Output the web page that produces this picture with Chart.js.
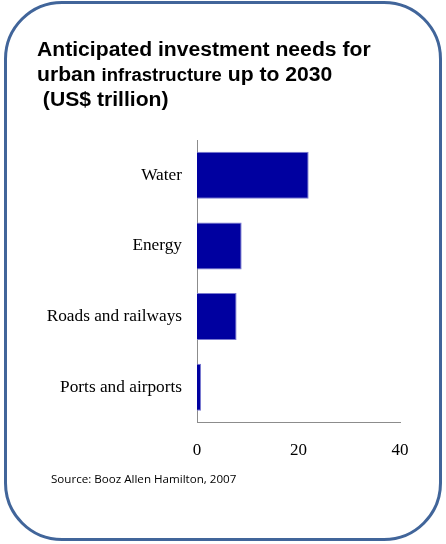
<!DOCTYPE html>
<html>
<head>
<meta charset="utf-8">
<script src="https://cdn.jsdelivr.net/npm/chart.js@4"></script>
<style>
  html,body{margin:0;padding:0;background:#fff;width:446px;height:544px;overflow:hidden;}
  #frame{position:absolute;left:4px;top:1px;width:432px;height:534px;border:3px solid #41659a;border-radius:58px;}
  #title{position:absolute;left:37px;top:37px;font-family:"Liberation Sans",Arial,sans-serif;font-weight:bold;font-size:20px;line-height:24.5px;color:#000;white-space:pre;transform:scaleX(1.057);transform-origin:0 0;}
  #title .small{font-size:17.5px;}
  #source{position:absolute;left:51px;top:471px;font-family:"Open Sans","Liberation Sans",sans-serif;font-size:11.6px;color:#000;}
  #wrap{position:absolute;left:0;top:0;width:446px;height:544px;}
</style>
</head>
<body>
<div id="frame"></div>
<div id="wrap"><canvas id="c" width="446" height="544"></canvas></div>
<div id="title">Anticipated investment needs for
urban <span class="small">infrastructure</span> up to 2030
 (US$ trillion)</div>
<div id="source">Source: Booz Allen Hamilton, 2007</div>
<script>
const categories = ["Water", "Energy", "Roads and railways", "Ports and airports"];
const investment = [22.0, 8.8, 7.8, 0.8];
const xTicks = [0, 20, 40];

new Chart(document.getElementById('c'), {
  type: 'bar',
  data: {
    labels: categories,
    datasets: [{
      data: investment,
      backgroundColor: '#0000a0',
      borderColor: '#7a7ad0',
      borderWidth: 1,
      barPercentage: 0.667,
      categoryPercentage: 1.0
    }]
  },
  options: {
    indexAxis: 'y',
    responsive: false,
    animation: false,
    events: [],
    layout: { padding: { left: 0, right: 46, top: 140, bottom: 0 } },
    plugins: { legend: { display: false }, tooltip: { enabled: false }, title: { display: false } },
    scales: {
      x: {
        min: 0, max: 40,
        afterBuildTicks: (s) => { s.ticks = xTicks.map(v => ({ value: v })); },
        afterFit: (s) => { s.height = 121.5; },
        grid: { display: false, drawTicks: false },
        border: { display: true, color: '#8c8c8c', width: 1 },
        ticks: { color: '#000', padding: 18, font: { family: 'Liberation Serif', size: 17 } }
      },
      y: {
        afterFit: (s) => { s.width = 197; },
        grid: { display: false, drawTicks: false },
        border: { display: true, color: '#8c8c8c', width: 1 },
        ticks: { color: '#000', padding: 15, font: { family: 'Liberation Serif', size: 17.3 } }
      }
    }
  }
});
</script>
</body>
</html>
